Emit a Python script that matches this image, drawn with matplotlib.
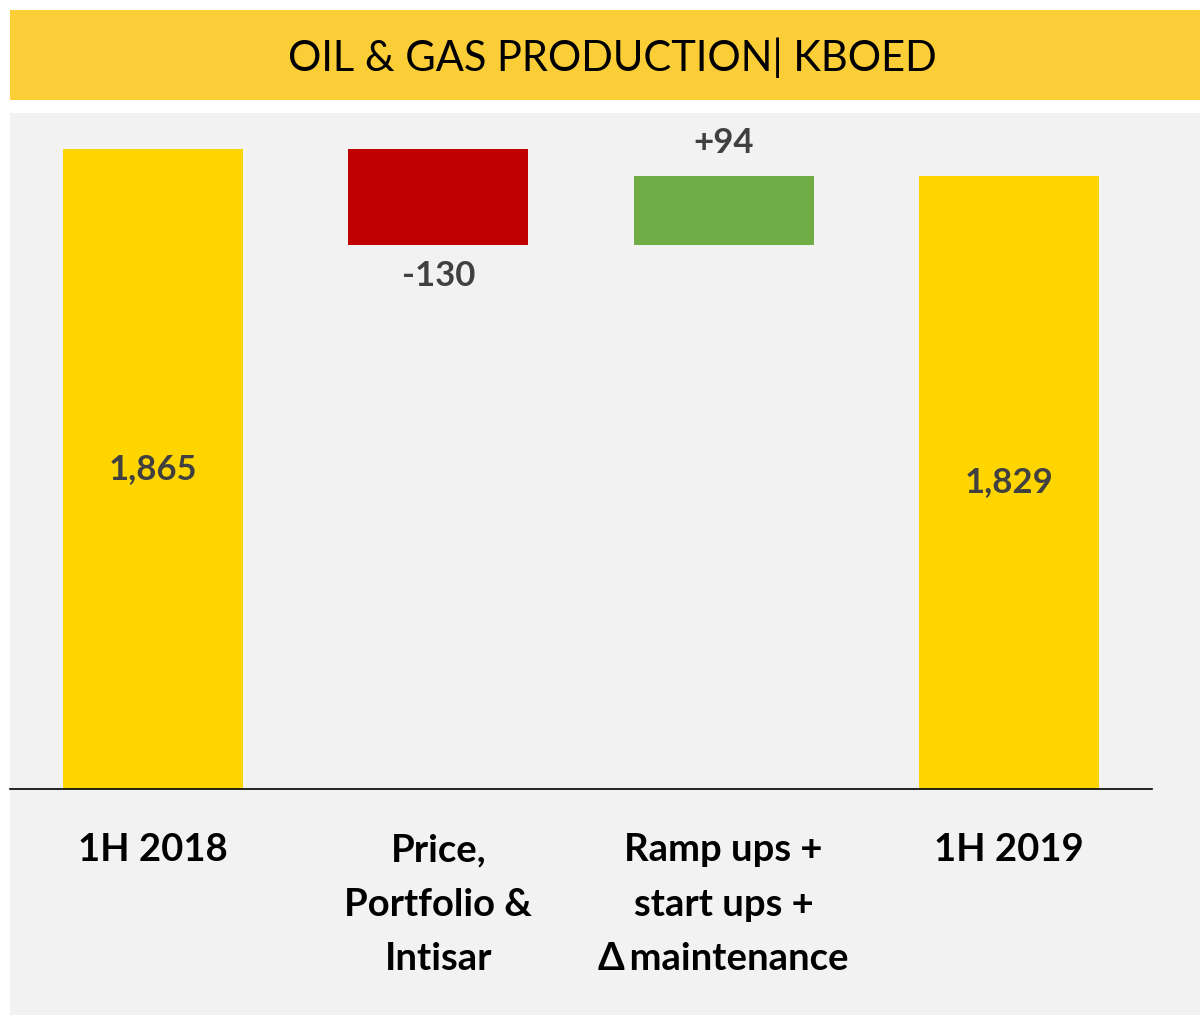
import numpy as np
import matplotlib.pyplot as plt
import matplotlib.patches as mpatches

# waterfall data
categories = ['1H 2018', 'Price,\nPortfolio &\nIntisar',
              'Ramp ups +\nstart ups +\n\u0394\u2009maintenance', '1H 2019']
values = [1865, -130, 94, 1829]
kinds = ['total', 'delta', 'delta', 'total']
value_labels = ['1,865', '-130', '+94', '1,829']

GOLD = '#FFD500'
RED = '#C00000'
GREEN = '#70AD47'
GREY_BG = '#F2F2F2'
BANNER = '#FBCD36'
LABEL_GREY = '#404040'

plt.rcParams['font.family'] = ['Lato', 'DejaVu Sans']

fig = plt.figure(figsize=(12, 10.15), dpi=100)
fig.patch.set_facecolor('white')

# title banner and grey panel (figure coords)
W, H = 1200.0, 1015.0
fig.patches.append(mpatches.Rectangle((10 / W, 1 - 100 / H), 1 - 10 / W, 90 / H,
                                      transform=fig.transFigure, facecolor=BANNER,
                                      edgecolor='none', zorder=-5))
fig.patches.append(mpatches.Rectangle((10 / W, 0), 1 - 10 / W, 1 - 113 / H,
                                      transform=fig.transFigure, facecolor=GREY_BG,
                                      edgecolor='none', zorder=-5))
fig.text(612 / W, 1 - 58 / H, 'OIL & GAS PRODUCTION| KBOED', ha='center', va='center',
         fontsize=30, color='black')

ax = fig.add_axes([10 / W, (H - 789) / H, 1142 / W, (789 - 113) / H])
ax.patch.set_alpha(0)

base = 1000
ymax = base + 676 / (640 / 865)
x = np.arange(len(categories))
running = 0
for i, (v, k) in enumerate(zip(values, kinds)):
    if k == 'total':
        bottom, top = base, v
        color = GOLD
        running = v
    else:
        new = running + v
        bottom, top = min(running, new), max(running, new)
        color = GREEN if v > 0 else RED
        running = new
    ax.bar(x[i], top - bottom, bottom=bottom, width=0.63, color=color, zorder=2)
    if k == 'total':
        ax.text(x[i], (bottom + top) / 2, value_labels[i], ha='center', va='center',
                fontsize=25, fontweight='bold', color=LABEL_GREY)
    elif v < 0:
        ax.text(x[i], bottom - 42, value_labels[i], ha='center', va='center',
                fontsize=25, fontweight='bold', color=LABEL_GREY)
    else:
        ax.text(x[i], top + 44, value_labels[i], ha='center', va='center',
                fontsize=25, fontweight='bold', color=LABEL_GREY)

ax.set_xlim(-0.5, 3.5)
ax.set_ylim(base, ymax)
for s in ['top', 'right', 'left']:
    ax.spines[s].set_visible(False)
ax.spines['bottom'].set_color('black')
ax.spines['bottom'].set_linewidth(1.2)
ax.set_yticks([])
ax.set_xticks(x)
ax.set_xticklabels(categories, fontsize=27.5, fontweight='bold', linespacing=1.72, va='top')
ax.tick_params(axis='x', length=0, pad=32)

fig.savefig('out.png', dpi=100, facecolor='white')
